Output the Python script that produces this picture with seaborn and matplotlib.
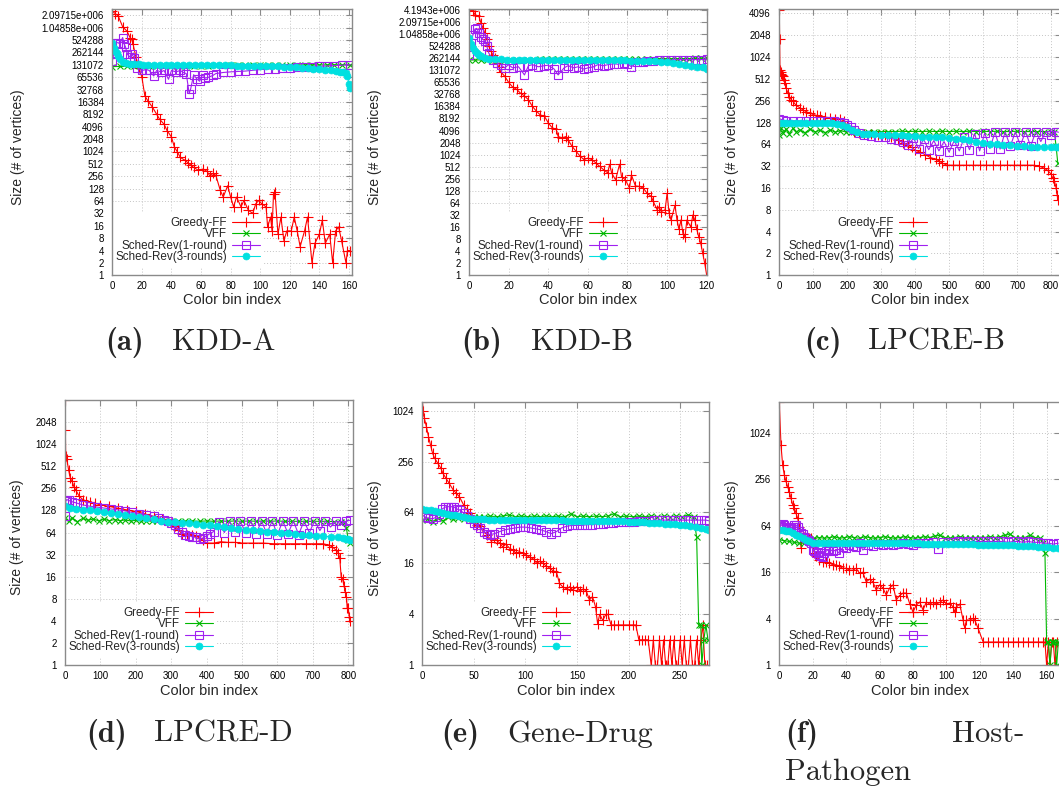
import matplotlib
matplotlib.use("Agg")
import matplotlib.pyplot as plt
from matplotlib.ticker import FixedLocator, FixedFormatter, NullLocator
import seaborn as sns

W, H = 1059, 787

SERIES_NAMES = ["Greedy-FF", "VFF", "Sched-Rev(1-round)", "Sched-Rev(3-rounds)"]
PANEL_LABELS = ["(a)", "(b)", "(c)", "(d)", "(e)", "(f)"]
PANEL_NAMES = ["KDD-A", "KDD-B", "LPCRE-B", "LPCRE-D", "Gene-Drug", "Host-Pathogen"]
X_LABEL = "Color bin index"
Y_LABEL = "Size (# of vertices)"

# ---------------- (a) KDD-A ----------------
A_GREEDY_X = [0,2,4,7,10,12,13,14,16,18, 20,22,24,27,30,32,35,37,40,42, 44,46,49,51,53,55,58,61,64,66,
              68,70,73,75,78,80,82,84,87,89, 92,95,97,99,101,104,105,107,108,109, 110,112,114,116,118,121,123,125,127,130,
              132,135,137,140,142,144,147,149,151,153, 155,158,159,161]
A_GREEDY = [2600000,2300000,2000000,1100000,850000,600000,550000,420000,200000,110000,
            65536,23000,17500,12400,8200,6200,4700,3300,2300,1300,
            1000,730,630,550,480,420,360,380,340,256,
            300,270,116,80,150,80,46,80,46,66,
            38,32,55,66,55,46,15,26,12,96,
            106,10,26,7,12,12,26,12,5,12,
            26,2,6,10,22,6,10,2,12,15,
            7,2,4,4]
A_VFF_X = [0,5,10,15,20,25,30,35,40,45,50,55,60,65,70,75,80,85,90,95,100,105,110,115,120,125,130,135,140,145,150,155,161]
A_VFF = [118000,119000,120000,121000,122000,122000,123000,123000,124000,124000,
         124000,125000,125000,125000,126000,126000,126000,127000,127000,127000,
         128000,128000,128000,129000,129000,129000,130000,130000,130000,130000,
         131000,131000,131072]
A_S1_X = [0,1,2,4,5,7,8,9,10,12, 13,15,17,20,23,25,28,30,33,35, 38,40,43,46,48,50,52,53,55,57,
          59,61,63,65,68,70,75,80,85,90, 95,100,105,110,115,120,125,130,135,140, 145,150,155,161]
A_S1 = [160000,240000,450000,450000,420000,600000,420000,350000,240000,200000,
        240000,190000,110000,95000,100000,95000,70000,95000,88000,95000,
        58000,95000,88000,95000,85000,80000,26000,34000,75000,60000,
        52000,75000,62000,65000,72000,80000,85000,88000,90000,92000,
        96000,100000,103000,106000,108000,110000,113000,115000,118000,120000,
        122000,125000,128000,131072]
A_S3_X = [0,1,2,3,4,5,7,9,12,15, 18,21,24,28,32,36,40,44,48,52, 56,60,64,68,72,76,80,84,88,92,
          96,100,104,108,112,116,120,124,128,132, 136,140,144,148,151,154,156,158,159,160, 161]
A_S3 = [450000,330000,290000,250000,210000,180000,155000,145000,140000,137000,
        134000,132000,131000,130000,129500,129000,128500,128000,128000,127500,
        127500,127000,127000,126500,126500,126000,126000,125500,125500,125000,
        125000,124000,123000,121000,119000,117000,115000,113000,111000,108000,
        106000,103000,99000,95000,92000,88000,86000,84000,70000,44000,
        36000]

# ---------------- (b) KDD-B ----------------
B_GREEDY_X = [0,2,3,5,6,7,8,9,10,11, 12,13,14,15,16,18,20,22,24,26, 28,30,32,34,36,38,40,42,44,45,
              47,49,50,52,54,56,58,60,62,64, 66,68,70,71,72,74,76,77,79,81, 82,84,86,88,90,92,93,95,96,97,
              99,100,101,102,104,105,106,107,108,109, 110,112,113,114,115,116,117,118,119,120]
B_GREEDY = [4200000,4000000,3200000,2900000,2000000,1500000,1100000,800000,520000,400000,
            320000,260000,200000,160000,120000,93000,65536,50000,44000,35000,
            30000,24000,16384,12500,10000,9400,6400,4800,4400,2900,
            2700,2900,2400,1660,1250,950,770,840,770,640,
            520,430,360,590,360,240,590,290,240,150,
            320,170,165,150,110,93,70,43,52,39,
            43,110,36,24,56,24,14,24,11,9,
            24,16,32,24,14,9,6.3,3.5,2,1]
B_VFF_X = [0,3,6,9,12,15,18,21,24,27,30,33,36,39,42,45,48,51,54,57,60,63,66,69,72,75,78,81,84,87,90,93,96,99,102,105,108,111,114,117,120]
B_VFF = [235000,236000,237000,238000,238000,239000,240000,240000,241000,241000,
         242000,242000,243000,243000,244000,244000,245000,245000,246000,246000,
         247000,247000,248000,248000,249000,249000,250000,250000,251000,251000,
         252000,252000,253000,253000,254000,255000,256000,257000,258000,260000,
         262144]
B_S1_X = [0,1,2,3,4,5,6,7,8,9, 10,12,14,16,18,20,22,25,28,30, 32,35,38,40,43,45,48,50,53,55,
          58,60,63,65,68,70,73,75,78,80, 82,85,88,90,93,96,99,102,105,108, 111,114,117,120]
B_S1 = [320000,630000,1000000,1400000,1450000,1100000,900000,770000,700000,520000,
        350000,240000,200000,180000,150000,180000,150000,160000,100000,170000,
        180000,160000,170000,175000,140000,100000,150000,170000,150000,160000,
        140000,150000,160000,180000,170000,180000,190000,185000,200000,190000,
        160000,210000,215000,220000,225000,230000,235000,235000,240000,240000,
        240000,242000,242000,245000]
B_S3_X = [0,1,2,3,4,5,6,8,10,13, 16,19,22,25,28,31,34,37,40,43, 46,49,52,55,58,61,64,67,70,73,
          76,79,82,85,88,91,94,97,100,103, 106,109,112,115,118,120]
B_S3 = [830000,600000,480000,400000,350000,320000,300000,270000,250000,245000,
        243000,242000,241000,240000,240000,239000,239000,238000,238000,237000,
        237000,236000,236000,235000,235000,234000,234000,233000,233000,232000,
        231000,230000,229000,228000,226000,222000,218000,212000,205000,195000,
        188000,180000,170000,162000,155000,140000]

# ---------------- (c) LPCRE-B ----------------
C_GREEDY_X = [0,1,2,4,6,8,10,13,16,20, 25,30,35,40,50,60,70,80,90,100, 110,120,135,150,165,180,190,200,210,220,
              235,250,270,290,310,330,350,365,380,390, 400,415,430,445,460,470,480,495,510,530,
              550,570,590,610,630,650,670,690,710,730, 750,765,780,790,800,805,810,815,818,820]
C_GREEDY = [4500,1800,680,640,600,580,560,500,450,380,
            330,290,265,250,220,205,190,180,172,165,
            160,156,152,148,145,142,135,115,100,96,
            92,90,88,87,86,82,73,67,62,58,
            53,50,46,42,40,38,35,33,33,33,
            33,33,33,33,33,33,33,33,33,33,
            33,32,30,28,25,22,20,16,13,11]
C_VFF_X = [0,5,10,20,30,40,50,60,75,90, 105,120,135,150,165,180,195,210,225,240, 260,280,300,320,340,360,380,400,420,440,
           460,480,500,520,540,560,580,600,620,640, 660,680,700,720,740,760,780,800,810,815, 820]
C_VFF = [86,108,92,104,90,106,94,102,92,104,
         95,100,93,101,94,99,95,96,95,96,
         96,96,96,96,96,97,96,97,96,97,
         96,97,96,97,96,97,96,97,96,97,
         96,96,97,96,96,96,96,96,94,60,
         35]
C_S1_X = [0,10,20,40,60,80,100,120,140,160, 180,190,200,210,220,235,250,270,290,310, 330,350,
          365,380,395,410,425,440,455,470,485,500, 515,530,545,560,575,590,605,620,635,650,
          665,680,695,710,725,740,755,770,785,800, 815,822]
C_S1 = [145,138,136,135,135,134,134,134,133,133,
        132,125,118,110,100,92,86,84,82,80,
        77,73,
        68,62,78,56,75,54,72,52,70,50,
        72,52,80,54,90,52,92,56,94,55,
        95,60,95,62,96,60,96,70,96,85,
        96,94]
C_S3_X = [0,10,20,35,50,65,80,95,110,125, 140,155,170,185,200,215,230,245,260,280, 300,320,340,360,380,400,420,440,460,480,
          500,520,540,560,580,600,620,640,660,680, 700,720,740,760,780,800,815,822]
C_S3 = [125,128,128,128,127,127,127,127,126,126,
        126,125,124,120,110,100,94,90,89,88,
        87,86,86,85,84,83,82,82,81,80,
        78,77,75,73,70,67,65,64,63,62,
        61,60,59,59,58,58,58,58]

# ---------------- (d) LPCRE-D ----------------
D_GREEDY_X = [0,1,2,5,10,15,20,25,30,40, 50,60,70,85,100,125,150,175,200,225, 250,275,290,300,310,320,330,345,360,370,
              380,390,400,420,440,460,480,500,530,560, 590,620,650,680,710,730,745,755,765,772,
              776,780,784,788,792,795,797,800,803,805]
D_GREEDY = [4096,1600,700,640,460,350,320,270,245,200,
            180,172,168,160,152,145,137,130,124,115,
            106,98,92,86,78,70,62,60,60,58,
            54,50,46,46,48,47,47,46,46,46,
            45,45,45,45,45,45,43,41,37,34,
            29,16,15,12,10,8.6,6,6,4.5,4]
D_VFF_X = [0,10,20,35,50,65,80,95,110,125, 140,155,170,185,200,215,230,245,260,280, 300,320,340,360,380,400,420,440,460,480,
           500,520,540,560,580,600,620,640,660,680, 700,720,740,760,780,790,795,800,805]
D_VFF = [100,92,102,90,100,94,98,92,97,93,
         96,93,95,92,94,92,93,91,92,91,
         91,92,91,92,91,92,91,92,91,92,
         91,92,91,92,91,92,91,91,91,91,
         91,91,91,90,90,88,73,50,46]
D_S1_X = [0,2,5,10,20,35,50,70,90,110, 130,150,170,190,210,230,250,265,280,290, 300,310,320,330,340,350,360,370,380,390,
          400,410,420,435,450,465,480,495,510,525, 540,555,570,585,600,615,630,645,660,675,
          690,705,720,735,750,765,780,795,805]
D_S1 = [106,170,180,175,168,160,152,146,142,138,
        134,130,126,120,116,112,106,100,96,92,
        86,80,72,66,60,58,56,55,52,54,
        58,62,66,90,64,91,66,91,64,92,
        62,92,62,92,60,92,62,92,60,92,
        64,92,68,92,76,92,82,92,94]
D_S3_X = [0,15,30,50,70,90,110,130,150,170, 190,210,230,250,270,290,310,330,350,370, 390,410,430,450,470,490,510,530,550,570,
          590,610,630,650,670,690,710,730,750,770, 785,795,800,805]
D_S3 = [145,138,134,131,128,125,122,119,116,112,
        107,104,100,97,93,90,88,86,85,83,
        82,80,78,76,74,72,70,69,68,66,
        65,64,63,61,60,59,58,57,56,55,
        54,53,52,51]

# ---------------- (e) Gene-Drug ----------------
E_GREEDY_X = [0,1,2,4,6,8,10,12,15,18, 20,23,26,30,33,36,40,43,46,50, 53,56,59,63,67,70,72,75,78,81,
              85,88,91,94,98,101,104,108,111,114, 117,120,124,127,130,133,136,140,143,146,
              150,153,156,159,162,165,168,170,172,175, 178,180,183,186,190,195,200,204,207,210,
              213,216,219,222,224,226,228,230,232,234, 236,238,240,242,244,246,248,250,252,254,
              256,258,260,262,264,266,268,270,272,274, 276]
E_GREEDY = [1300,1024,830,660,505,400,320,280,245,214,
            186,162,142,118,108,98,79,70,63,50,
            46,44,38,35,29,32,30,28,25,27,
            24,23,21,22,21,20,19,18,16,17,
            16,15,14,13,12.8,9.3,8.5,8,8.5,7.8,
            8.5,7.5,8,7.6,5.9,6.5,4.9,3.1,4,3.4,
            4,4,3,3,3,3,3,3,3,2,
            2,2,2,1,2,1,1,2,1,2,
            1,1,2,1,2,1,1,2,1,2,
            1,1,2,1,1,2,1,2,3,1,
            1]
E_VFF_X = [0,5,10,15,20,25,30,35,40,45, 50,55,60,66,72,78,84,90,96,102, 108,114,120,126,132,138,144,150,156,162,
           168,174,180,186,192,198,204,210,216,222, 228,234,240,246,252,258,263,266,268,270, 271,273,275,277]
E_VFF = [52,54,50,55,51,56,53,55,54,56,
         56,57,57,58,57,58,60,57,58,57,
         58,57,58,57,58,57,62,57,58,57,
         58,57,58,62,57,58,57,58,57,58,
         57,58,57,58,57,60,57,33,3,3,
         1,2,3,2]
E_S1_X = [0,3,6,10,13,16,19,22,25,28, 31,34,37,40,43,46,50,53,56,60, 63,66,70,75,80,85,90,95,100,105,
          110,115,120,125,130,135,140,145,
          150,155,160,165,170,175,180,185,190,195, 200,205,210,215,220,225,230,235,240,245,
          250,255,260,265,270,275,278]
E_S1 = [60,56,55,54,56,62,70,74,75,75,
        74,70,68,63,58,54,48,45,42,38,
        36,35,36,38,40,41,42,43,43,42,
        41,40,38,36,38,42,44,45,
        45,45,46,46,47,47,48,48,49,49,
        50,50,51,51,51,52,52,52,52,52,
        52,52,52,52,52,52,51]
E_S3_X = [0,4,8,12,16,20,24,28,32,36, 40,44,48,52,56,
          60,65,70,75,80,85,90,95,100,105, 110,115,120,125,130,135,140,145,150,155, 160,165,170,175,180,185,190,195,
          200,205,210,215,220,225,230,235,240,245, 250,255,260,265,270,275,278]
E_S3 = [70,69,68,67,65,63,62,60,59,58, 56,55,54,53,53,
        53,52,52,52,52,52,52,52,52,52, 52,52,52,52,52,52,51,51,51,51, 51,51,51,51,51,51,51,51,
        50,50,49,49,48,48,48,47,47,47, 46,45,44,43,42,41,40]

# ---------------- (f) Host-Pathogen ----------------
F_GREEDY_X = [0,1,2,3,4,5,6,7,8,9, 10,11,12,13,14,15,16,17,18,19, 21,22,24,26,28,30,32,34,36,38,
              40,42,44,46,48,50,52,54,56,58, 60,62,64,66,68,70,72,74,76,78, 80,82,84,86,88,90,92,94,96,98,
              100,102,104,105,106,108,110,111,112,114, 116,117,119,122,125,128,131,134,137,140,
              143,146,149,152,155,158,159,160,161,162, 163,164,165,166]
F_GREEDY = [2580,710,390,290,240,205,176,145,120,108,
            93,80,62,33,51,46,42,45,44,45,
            28,26,23,22,22,21,20,20,19,18,
            18,17,17,18,15.5,16,12,13,12,9.4,
            11,10,8.1,10,11,7,8,8.6,8.6,6.3,
            4.9,6,6.6,5.2,6.6,6.2,6.5,6.2,6.5,7,
            6.2,6.4,5.7,4.9,5.7,6.2,3.85,3,3.85,3.85,
            4.05,3.85,3,2,2,2,2,2,2,2,
            2,2,2,2,2,2,2,1,2,1,
            2,2,1,2]
F_VFF_X = [0,3,6,9,12,15,18,21,24,27, 30,33,36,39,42,45,48,51,54,57,
           60,63,66,69,72,75,78,81,84,87, 90,93,96,99,102,105,108,111,114,117, 120,123,126,129,132,135,138,141,144,147,
           150,153,156,158,159,160,161,162,163,164, 165,166,167]
F_VFF = [42,41,40,39,38,38,41,44,45,44,
         45,46,44,45,46,45,44,46,45,44,
         45,46,45,44,45,46,45,44,45,46,
         45,47,48,45,44,45,46,45,44,45,
         45,45,46,45,46,48,50,45,44,45,
         48,45,44,38,28,2,2,1,2,2,
         2,1,2]
F_S1_X = [0,1,2,3,4,5,6,7,8,9, 10,11,12,13,14,15,16,17,18,19, 20,21,22,23,24,25,26,27,28,29, 30,
          32,34,36,38,40,42,44,46,48,50,
          53,56,59,62,65,68,71,74,77,80, 83,86,89,92,95,98,101,104,107,110, 113,116,119,122,125,128,131,134,137,140,
          143,146,149,152,155,158,161,164,167]
F_S1 = [62,64,68,66,62,60,58,60,62,66,
        65,62,55,52,50,46,44,42,40,38,
        31,30,28,29,27,26,25,28,30,31,
        32,
        30,31,28,34,33,36,35,34,38,31,
        36,35,37,36,37,36,37,38,37,36,
        38,38,38,39,32,39,39,39,40,39,
        40,40,40,40,40,40,40,40,39,40,
        40,39,40,39,39,38,38,37,38]
F_S3_X = [0,2,4,6,8,10,12,14,16,18,20,
          23,26,29,32,35,38,41,44,47,50, 53,56,59,62,65,68,71,74,77,80, 83,86,89,92,95,98,101,104,107,110,
          113,116,119,122,125,128,131,134,137,140, 143,146,149,152,155,158,161,164, 167]
F_S3 = [56,56,54,54,52,49,47,45,42,40,38,
        38,38,38,38,38,38,38,38,38,38, 38,38,38,38,38,38,38,38,38,38, 38,37,37,37,37,37,37,37,37,37,
        37,37,36,36,36,36,36,36,36,36, 35,35,35,35,34,34,34,33, 33]

# ---------------- axes ticks ----------------
A_XTICKS = [0, 20, 40, 60, 80, 100, 120, 140, 160]
B_XTICKS = [0, 20, 40, 60, 80, 100, 120]
C_XTICKS = [0, 100, 200, 300, 400, 500, 600, 700, 800]
D_XTICKS = [0, 100, 200, 300, 400, 500, 600, 700, 800]
E_XTICKS = [0, 50, 100, 150, 200, 250]
F_XTICKS = [0, 20, 40, 60, 80, 100, 120, 140, 160]
A_YTICKS = [2 ** k for k in range(22)]
B_YTICKS = [2 ** k for k in range(23)]
C_YTICKS = [2 ** k for k in range(13)]
D_YTICKS = [2 ** k for k in range(12)]
E_YTICKS = [1, 4, 16, 64, 256, 1024]
F_YTICKS = [1, 4, 16, 64, 256, 1024]


def gp_fmt(v):
    s = "%g" % v
    if "e" in s:
        mant, exp = s.split("e")
        s = "%se%s%03d" % (mant, exp[0], int(exp[1:]))
    return s


sns.set_theme(style="white")
plt.rcParams["font.family"] = ["Liberation Sans", "DejaVu Sans"]
plt.rcParams["axes.unicode_minus"] = False

STYLES = [
    dict(color="#FF0000", marker="+", markersize=6.5, markerfacecolor="#FF0000", markeredgewidth=0.8),
    dict(color="#00B800", marker="x", markersize=5, markerfacecolor="#00B800", markeredgewidth=0.8),
    dict(color="#A020F0", marker="s", markersize=5.5, markerfacecolor="none", markeredgewidth=0.8),
    dict(color="#00E0E0", marker="o", markersize=5, markerfacecolor="#00E0E0", markeredgewidth=0.5),
]

# pixel boxes: left, top, right, bottom ; xlim ; ylim top exponent
PANELS = [
    dict(box=(112.3, 9.0, 351.9, 275.3), xlim=(0, 162), ytop=21.5, xt=A_XTICKS, yt=A_YTICKS,
         data=[(A_GREEDY_X, A_GREEDY), (A_VFF_X, A_VFF), (A_S1_X, A_S1), (A_S3_X, A_S3)], ylab_x=18),
    dict(box=(469.0, 9.3, 707.3, 275.3), xlim=(0, 120.3), ytop=22.05, xt=B_XTICKS, yt=B_YTICKS,
         data=[(B_GREEDY_X, B_GREEDY), (B_VFF_X, B_VFF), (B_S1_X, B_S1), (B_S3_X, B_S3)], ylab_x=375),
    dict(box=(779.3, 9.0, 1061.2, 275.3), xlim=(0, 830), ytop=12.2, xt=C_XTICKS, yt=C_YTICKS,
         data=[(C_GREEDY_X, C_GREEDY), (C_VFF_X, C_VFF), (C_S1_X, C_S1), (C_S3_X, C_S3)], ylab_x=732),
    dict(box=(65.0, 400.0, 353.2, 665.3), xlim=(0, 814), ytop=11.99, xt=D_XTICKS, yt=D_YTICKS,
         data=[(D_GREEDY_X, D_GREEDY), (D_VFF_X, D_VFF), (D_S1_X, D_S1), (D_S3_X, D_S3)], ylab_x=17),
    dict(box=(422.3, 401.7, 709.0, 665.3), xlim=(0, 278), ytop=10.35, xt=E_XTICKS, yt=E_YTICKS,
         data=[(E_GREEDY_X, E_GREEDY), (E_VFF_X, E_VFF), (E_S1_X, E_S1), (E_S3_X, E_S3)], ylab_x=375),
    dict(box=(779.3, 401.7, 1060.0, 665.3), xlim=(0, 168), ytop=11.33, xt=F_XTICKS, yt=F_YTICKS,
         data=[(F_GREEDY_X, F_GREEDY), (F_VFF_X, F_VFF), (F_S1_X, F_S1), (F_S3_X, F_S3)], ylab_x=732),
]

fig = plt.figure(figsize=(W / 100, H / 100), dpi=100)
fig.patch.set_facecolor("white")

FRAME = "#8a8a8a"

for p in PANELS:
    l, t, r, b = p["box"]
    ax = fig.add_axes([l / W, 1 - b / H, (r - l) / W, (b - t) / H])
    ax.set_facecolor("white")
    handles = []
    for (xs, ys), name, st in zip(p["data"], SERIES_NAMES, STYLES):
        sns.lineplot(x=xs, y=ys, ax=ax, sort=False, estimator=None, errorbar=None, legend=False,
                     color=st["color"], marker=st["marker"], markersize=st["markersize"],
                     markerfacecolor=st["markerfacecolor"], markeredgecolor=st["color"],
                     markeredgewidth=st["markeredgewidth"], linewidth=0.8, zorder=2)
        handles.append(ax.lines[-1])
    ax.set_yscale("log", base=2)
    ax.set_xlim(*p["xlim"])
    ax.set_ylim(1, 2 ** p["ytop"])
    ax.xaxis.set_major_locator(FixedLocator(p["xt"]))
    ax.xaxis.set_major_formatter(FixedFormatter([str(v) for v in p["xt"]]))
    ax.yaxis.set_major_locator(FixedLocator(p["yt"]))
    ax.yaxis.set_major_formatter(FixedFormatter([gp_fmt(v) for v in p["yt"]]))
    ax.yaxis.set_minor_locator(NullLocator())
    ax.xaxis.set_minor_locator(NullLocator())
    ax.set_xlabel("")
    ax.set_ylabel("")
    ax.set_axisbelow(True)
    ax.grid(True, which="major", color="#c4c4c4", linestyle=(0, (1, 2)), linewidth=0.7)
    for s in ax.spines.values():
        s.set_color(FRAME)
        s.set_linewidth(1.0)
    ax.tick_params(which="both", direction="in", top=True, right=True, length=4, width=0.8,
                   color=FRAME, labelsize=7, labelcolor="black")
    ax.tick_params(axis="x", pad=4)
    ax.tick_params(axis="y", pad=6)

    wpx, hpx = r - l, b - t
    leg = ax.legend(handles=handles, labels=SERIES_NAMES, loc="lower right",
                    bbox_to_anchor=(152 / wpx, 8 / hpx), borderaxespad=0, borderpad=0.35,
                    markerfirst=False, frameon=True, fancybox=False, facecolor="white",
                    edgecolor="none", framealpha=1, fontsize=8.4, handlelength=2.4,
                    handletextpad=0.45, labelspacing=-0.05, numpoints=1)
    leg.get_frame().set_linewidth(0)
    leg.set_zorder(1.5)

    cx = (l + r) / 2
    xlab_y = 300 if b < 400 else 691
    fig.text(cx / W, 1 - xlab_y / H, X_LABEL, ha="center", va="center", fontsize=10.5)
    fig.text(p["ylab_x"] / W, 1 - ((t + b) / 2 + 5) / H, Y_LABEL, ha="center", va="center",
             rotation=90, fontsize=10)

# captions
CAP_POS = [(105, 172, 350), (461, 531, 350), (804, 868, 350), (86, 154, 742), (441, 507, 742)]
for (xl, xn, yb), lab, name in zip(CAP_POS, PANEL_LABELS[:5], PANEL_NAMES[:5]):
    fig.text(xl / W, 1 - yb / H, lab, fontfamily="cmb10", fontsize=22, va="baseline", ha="left")
    fig.text(xn / W, 1 - yb / H, name, fontfamily="cmr10", fontsize=22, va="baseline", ha="left")
host, pathogen = PANEL_NAMES[5].split("-")
fig.text(785 / W, 1 - 742 / H, PANEL_LABELS[5], fontfamily="cmb10", fontsize=22, va="baseline", ha="left")
fig.text(952 / W, 1 - 742 / H, host + "-", fontfamily="cmr10", fontsize=22, va="baseline", ha="left")
fig.text(785 / W, 1 - 780 / H, pathogen, fontfamily="cmr10", fontsize=22, va="baseline", ha="left")

fig.savefig("out.png", dpi=100, facecolor="white")
